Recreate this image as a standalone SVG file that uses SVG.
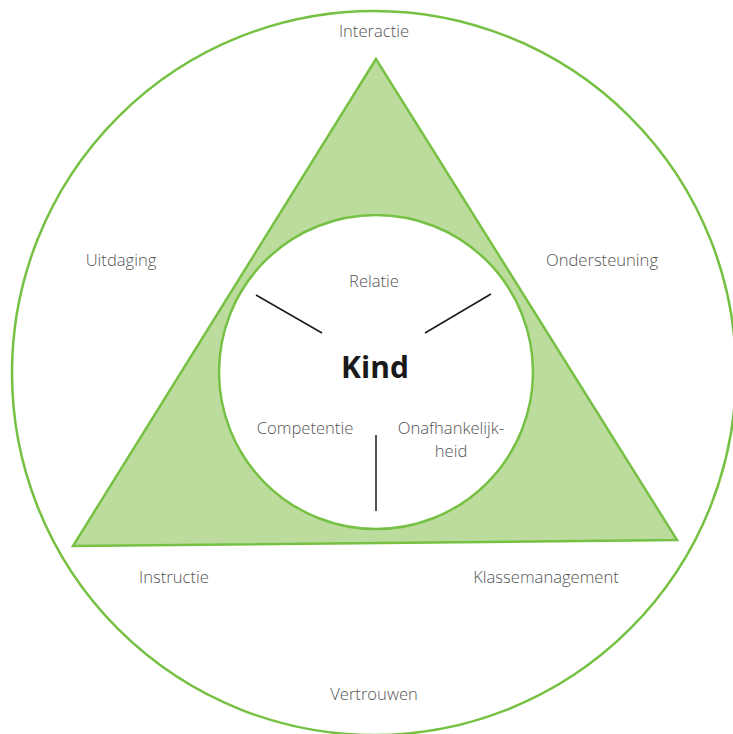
<svg xmlns="http://www.w3.org/2000/svg" width="733" height="734" viewBox="0 0 733 734">
<style>
.g{fill:none;stroke:#76c143;stroke-width:2.5}
.t{font-family:"Open Sans","Noto Sans",sans-serif;font-size:16.6px;fill:#555;text-anchor:middle;font-weight:300}
.k{font-family:"Open Sans","Noto Sans",sans-serif;font-size:30px;font-weight:700;fill:#1a1a1a;text-anchor:middle}
.l{stroke:#1a1a1a;stroke-width:1.5}
</style>
<rect width="733" height="734" fill="#fff"/>
<g id="outer"><circle cx="374" cy="373" r="362" class="g"/></g>
<g id="triangle"><polygon points="376,59 73,546 677,540" fill="#bcdc9e" stroke="#76c143" stroke-width="2.5" stroke-linejoin="miter"/></g>
<g id="inner"><circle cx="376" cy="372" r="157" fill="#fff" stroke="#76c143" stroke-width="2.5"/></g>
<g id="connectors">
<line x1="256" y1="295" x2="322" y2="333" class="l"/>
<line x1="491" y1="294" x2="425" y2="333" class="l"/>
<line x1="376" y1="435" x2="376" y2="511" class="l"/>
</g>
<g id="labels">
<text x="374" y="37" class="t">Interactie</text>
<text x="121" y="266" class="t">Uitdaging</text>
<text x="602" y="266" class="t">Ondersteuning</text>
<text x="174" y="583" class="t">Instructie</text>
<text x="546" y="583" class="t">Klassemanagement</text>
<text x="374" y="700" class="t">Vertrouwen</text>
<text x="374" y="287" class="t">Relatie</text>
<text x="305" y="434" class="t">Competentie</text>
<text x="451" y="434" class="t">Onafhankelijk-</text>
<text x="451" y="457" class="t">heid</text>
<text x="375" y="378" class="k">Kind</text>
</g>
</svg>
